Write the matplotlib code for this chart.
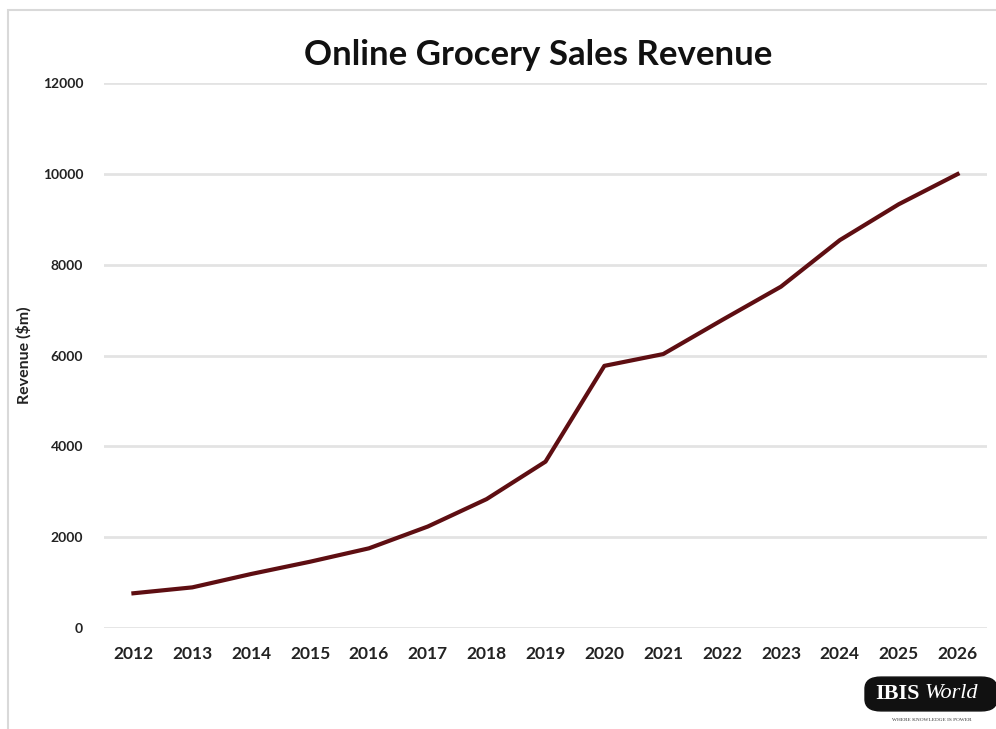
import numpy as np
import matplotlib.pyplot as plt
from matplotlib.patches import FancyBboxPatch, Rectangle

# Ingresos anuales (millones de dolares)
anios = [2012, 2013, 2014, 2015, 2016, 2017, 2018, 2019,
         2020, 2021, 2022, 2023, 2024, 2025, 2026]
ingresos = [765, 895, 1190, 1460, 1755, 2235, 2840, 3665,
            5775, 6035, 6785, 7520, 8545, 9335, 10000]
marcas_y = [0, 2000, 4000, 6000, 8000, 10000, 12000]

plt.rcParams['font.family'] = ['Lato', 'DejaVu Sans']

fig = plt.figure(figsize=(9.96, 7.29), dpi=100)
fig.patch.set_facecolor("white")

# Marco gris del fondo
fig.add_artist(Rectangle((8/996, -0.1), 1.2, 1 - 10/729 + 0.1,
                         transform=fig.transFigure, fill=False,
                         edgecolor="#d9d9d9", linewidth=1.5))

ax = fig.add_axes([104/996, 1 - 628/729, (987 - 104)/996, (628 - 83.3)/729])

x = np.arange(len(anios))
ax.plot(x, ingresos, color="#5e0e12", linewidth=3, solid_joinstyle="round")

ax.set_xlim(-0.5, len(anios) - 0.5)
ax.set_ylim(0, 12000)
ax.set_yticks(marcas_y)
ax.set_yticklabels([str(v) for v in marcas_y], fontsize=10, fontweight="bold",
                   color="#222222")
ax.set_xticks(x)
ax.set_xticklabels([str(a) for a in anios], fontsize=12.5, fontweight="bold",
                   color="#222222")
ax.tick_params(length=0)
ax.tick_params(axis="y", pad=15)
ax.tick_params(axis="x", pad=13)

ax.grid(axis="y", color="#e3e3e3", linewidth=2)
ax.set_axisbelow(True)
for s in ax.spines.values():
    s.set_visible(False)

ax.set_ylabel("Revenue ($m)", fontsize=11.5, fontweight="bold", color="#222222",
              labelpad=8)

fig.text(538/996, 1 - 55/729, "Online Grocery Sales Revenue", ha="center",
         va="center", fontsize=25, fontweight="bold", color="#111111")

# Logo
logo = FancyBboxPatch((869/996, 1 - 708/729), 124/996, 28/729,
                      boxstyle="round,pad=0.004,rounding_size=0.016",
                      transform=fig.transFigure, facecolor="#111111",
                      edgecolor="#111111")
fig.add_artist(logo)
fig.text(875/996, 1 - 694/729, "IBIS", ha="left", va="center", fontsize=16,
         fontweight="bold", family="Liberation Serif", color="white")
fig.text(925/996, 1 - 694/729, "World", ha="left", va="center", fontsize=16,
         style="italic", family="Liberation Serif", color="white")
fig.text(932/996, 1 - 720/729, "WHERE KNOWLEDGE IS POWER", ha="center",
         va="center", fontsize=3.8, family="Liberation Serif", color="#333333")

fig.savefig("out.png", dpi=100)
